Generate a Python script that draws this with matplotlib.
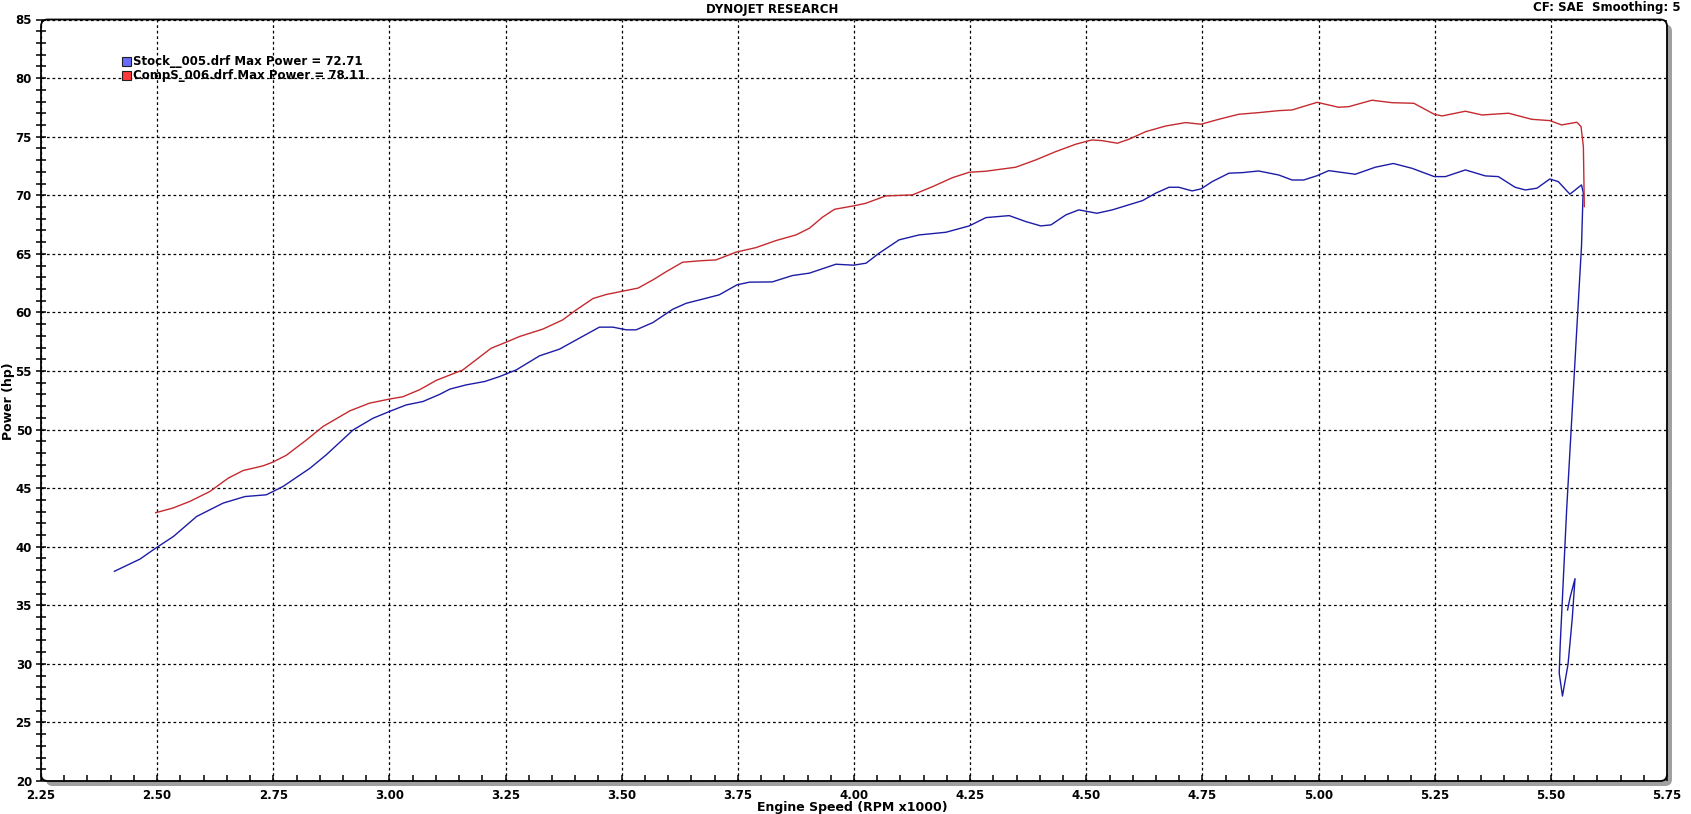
"""Dynojet power run comparison: stock vs CompS."""

import matplotlib

matplotlib.use("Agg")
import matplotlib.pyplot as plt  # noqa: E402
from matplotlib.patches import FancyBboxPatch, Rectangle  # noqa: E402
from matplotlib.ticker import FormatStrFormatter, MultipleLocator  # noqa: E402

# Engine speed (RPM x1000) and power (hp)
stock_rpm = [
    2.408, 2.463, 2.497, 2.535, 2.585, 2.642, 2.689, 2.735, 2.771, 2.829,
    2.864, 2.922, 2.965, 3.000, 3.036, 3.072, 3.108, 3.130, 3.165, 3.205,
    3.237, 3.273, 3.323, 3.366, 3.402, 3.452, 3.481, 3.510, 3.531, 3.567,
    3.610, 3.639, 3.674, 3.710, 3.748, 3.775, 3.824, 3.867, 3.904, 3.961,
    3.999, 4.026, 4.054, 4.097, 4.140, 4.198, 4.248, 4.284, 4.334, 4.370,
    4.402, 4.424, 4.456, 4.484, 4.523, 4.556, 4.584, 4.621, 4.649, 4.678,
    4.699, 4.728, 4.747, 4.771, 4.807, 4.836, 4.871, 4.914, 4.943, 4.968,
    4.997, 5.022, 5.079, 5.122, 5.161, 5.201, 5.249, 5.273, 5.316, 5.359,
    5.387, 5.423, 5.445, 5.470, 5.498, 5.516, 5.541, 5.566, 5.570, 5.569,
    5.566, 5.556, 5.545, 5.534, 5.527, 5.520, 5.518, 5.525, 5.537, 5.546,
    5.552, 5.546, 5.541, 5.536,
]
stock_hp = [
    37.90, 38.94, 39.88, 40.87, 42.58, 43.72, 44.28, 44.43, 45.14, 46.70,
    47.84, 49.97, 50.97, 51.54, 52.10, 52.39, 53.00, 53.45, 53.81, 54.10,
    54.52, 55.09, 56.29, 56.86, 57.65, 58.74, 58.74, 58.51, 58.51, 59.13,
    60.27, 60.78, 61.13, 61.50, 62.35, 62.58, 62.60, 63.14, 63.35, 64.11,
    64.03, 64.20, 65.05, 66.19, 66.61, 66.84, 67.38, 68.09, 68.26, 67.75,
    67.38, 67.47, 68.32, 68.75, 68.46, 68.75, 69.09, 69.54, 70.17, 70.68,
    70.68, 70.37, 70.54, 71.16, 71.88, 71.93, 72.07, 71.73, 71.30, 71.30,
    71.67, 72.10, 71.79, 72.39, 72.71, 72.30, 71.59, 71.59, 72.16, 71.65,
    71.59, 70.68, 70.45, 70.60, 71.39, 71.16, 70.09, 70.88, 70.17, 69.76,
    65.68, 58.70, 50.93, 43.17, 37.35, 31.52, 29.20, 27.25, 29.97, 33.85,
    37.27, 36.37, 35.60, 34.60,
]

comps_rpm = [
    2.497, 2.534, 2.570, 2.613, 2.653, 2.685, 2.728, 2.748, 2.778, 2.821,
    2.857, 2.915, 2.957, 3.000, 3.029, 3.065, 3.101, 3.158, 3.219, 3.249,
    3.280, 3.330, 3.373, 3.402, 3.438, 3.466, 3.498, 3.535, 3.567, 3.596,
    3.631, 3.667, 3.703, 3.746, 3.789, 3.832, 3.875, 3.904, 3.932, 3.958,
    3.999, 4.026, 4.068, 4.126, 4.169, 4.212, 4.248, 4.284, 4.312, 4.348,
    4.391, 4.434, 4.477, 4.512, 4.534, 4.567, 4.592, 4.628, 4.671, 4.714,
    4.747, 4.785, 4.828, 4.871, 4.914, 4.943, 4.997, 5.043, 5.065, 5.115,
    5.158, 5.205, 5.249, 5.266, 5.316, 5.352, 5.409, 5.459, 5.498, 5.523,
    5.556, 5.565, 5.570, 5.572,
]
comps_hp = [
    42.90, 43.30, 43.86, 44.70, 45.85, 46.50, 46.90, 47.20, 47.80, 49.10,
    50.26, 51.60, 52.25, 52.60, 52.80, 53.40, 54.20, 55.09, 56.94, 57.42,
    57.94, 58.57, 59.36, 60.21, 61.18, 61.52, 61.78, 62.07, 62.77, 63.48,
    64.28, 64.40, 64.48, 65.14, 65.53, 66.13, 66.61, 67.18, 68.12, 68.80,
    69.09, 69.32, 69.94, 70.03, 70.73, 71.50, 71.96, 72.05, 72.20, 72.39,
    73.01, 73.72, 74.35, 74.72, 74.66, 74.44, 74.78, 75.43, 75.91, 76.20,
    76.06, 76.48, 76.91, 77.05, 77.22, 77.28, 77.93, 77.51, 77.56, 78.11,
    77.90, 77.85, 76.91, 76.77, 77.17, 76.85, 77.00, 76.48, 76.37, 76.00,
    76.23, 75.85, 74.15, 69.03,
]

run_names = ["Stock__005.drf", "CompS_006.drf"]
line_colors = ["#1c1ca6", "#c42a2f"]
swatch_colors = ["#6a6aff", "#ff3a3a"]

W, H = 1691, 814
fig = plt.figure(figsize=(W / 100, H / 100), dpi=100)
fig.patch.set_facecolor("white")

# plot frame in pixels
left, right, bottom, top = 41, 1667, 33, 794.5
ax = fig.add_axes([left / W, bottom / H, (right - left) / W, (top - bottom) / H])
ax.patch.set_visible(False)
for sp in ax.spines.values():
    sp.set_visible(False)

# gray drop shadow and rounded frame behind the axes
rnd = "round,pad=0,rounding_size=0.004"
shadow = FancyBboxPatch(((left + 5) / W, (bottom - 5) / H),
                        (right - left) / W, (top - bottom) / H,
                        boxstyle=rnd, mutation_aspect=W / H,
                        transform=fig.transFigure, facecolor="#a0a0a0",
                        edgecolor="none", zorder=-3)
frame = FancyBboxPatch((left / W, bottom / H),
                       (right - left) / W, (top - bottom) / H,
                       boxstyle=rnd, mutation_aspect=W / H,
                       transform=fig.transFigure, facecolor="white",
                       edgecolor="black", linewidth=1.3, zorder=-2)
fig.patches.extend([shadow, frame])

ax.plot(stock_rpm, stock_hp, color=line_colors[0], linewidth=1.0, zorder=3)
ax.plot(comps_rpm, comps_hp, color=line_colors[1], linewidth=1.0, zorder=3)

ax.set_xlim(2.25, 5.75)
ax.set_ylim(20, 85)
ax.xaxis.set_major_locator(MultipleLocator(0.25))
ax.xaxis.set_minor_locator(MultipleLocator(0.05))
ax.yaxis.set_major_locator(MultipleLocator(5))
ax.yaxis.set_minor_locator(MultipleLocator(1))
ax.xaxis.set_major_formatter(FormatStrFormatter("%.2f"))

ax.grid(True, which="major", color="black", linestyle=(0, (2.2, 2.2)),
        linewidth=0.9)
ax.tick_params(axis="x", which="both", direction="in", length=4.5,
               width=1.1, pad=6, labelsize=8.5)
ax.tick_params(axis="y", which="both", direction="inout", length=7,
               width=1.1, pad=3, labelsize=8.5)
for lab in ax.get_xticklabels() + ax.get_yticklabels():
    lab.set_fontweight("bold")

# legend swatches and labels
maxima = [max(stock_hp), max(comps_hp)]
for i, (name, mx) in enumerate(zip(run_names, maxima)):
    y_px = 57 + i * 14
    fig.patches.append(Rectangle((122 / W, 1 - (y_px + 9) / H), 9 / W, 9 / H,
                                 transform=fig.transFigure,
                                 facecolor=swatch_colors[i],
                                 edgecolor="#202020", linewidth=0.8, zorder=5))
    fig.text(133 / W, 1 - (y_px + 5) / H, f"{name} Max Power = {mx:.2f}",
             ha="left", va="center", fontsize=8.5, fontweight="bold",
             zorder=5)

fig.text(772 / W, 1 - 9 / H, "DYNOJET RESEARCH", ha="center", va="center",
         fontsize=8.5, fontweight="bold")
fig.text(1681 / W, 1 - 8 / H, "CF: SAE  Smoothing: 5", ha="right",
         va="center", fontsize=8.5, fontweight="bold")
fig.text(852 / W, 1 - 807 / H, "Engine Speed (RPM x1000)", ha="center",
         va="center", fontsize=9, fontweight="bold")
fig.text(9 / W, 1 - 401 / H, "Power (hp)", ha="center", va="center",
         rotation=90, fontsize=9, fontweight="bold")

fig.savefig("out.png", dpi=100)
plt.close(fig)
